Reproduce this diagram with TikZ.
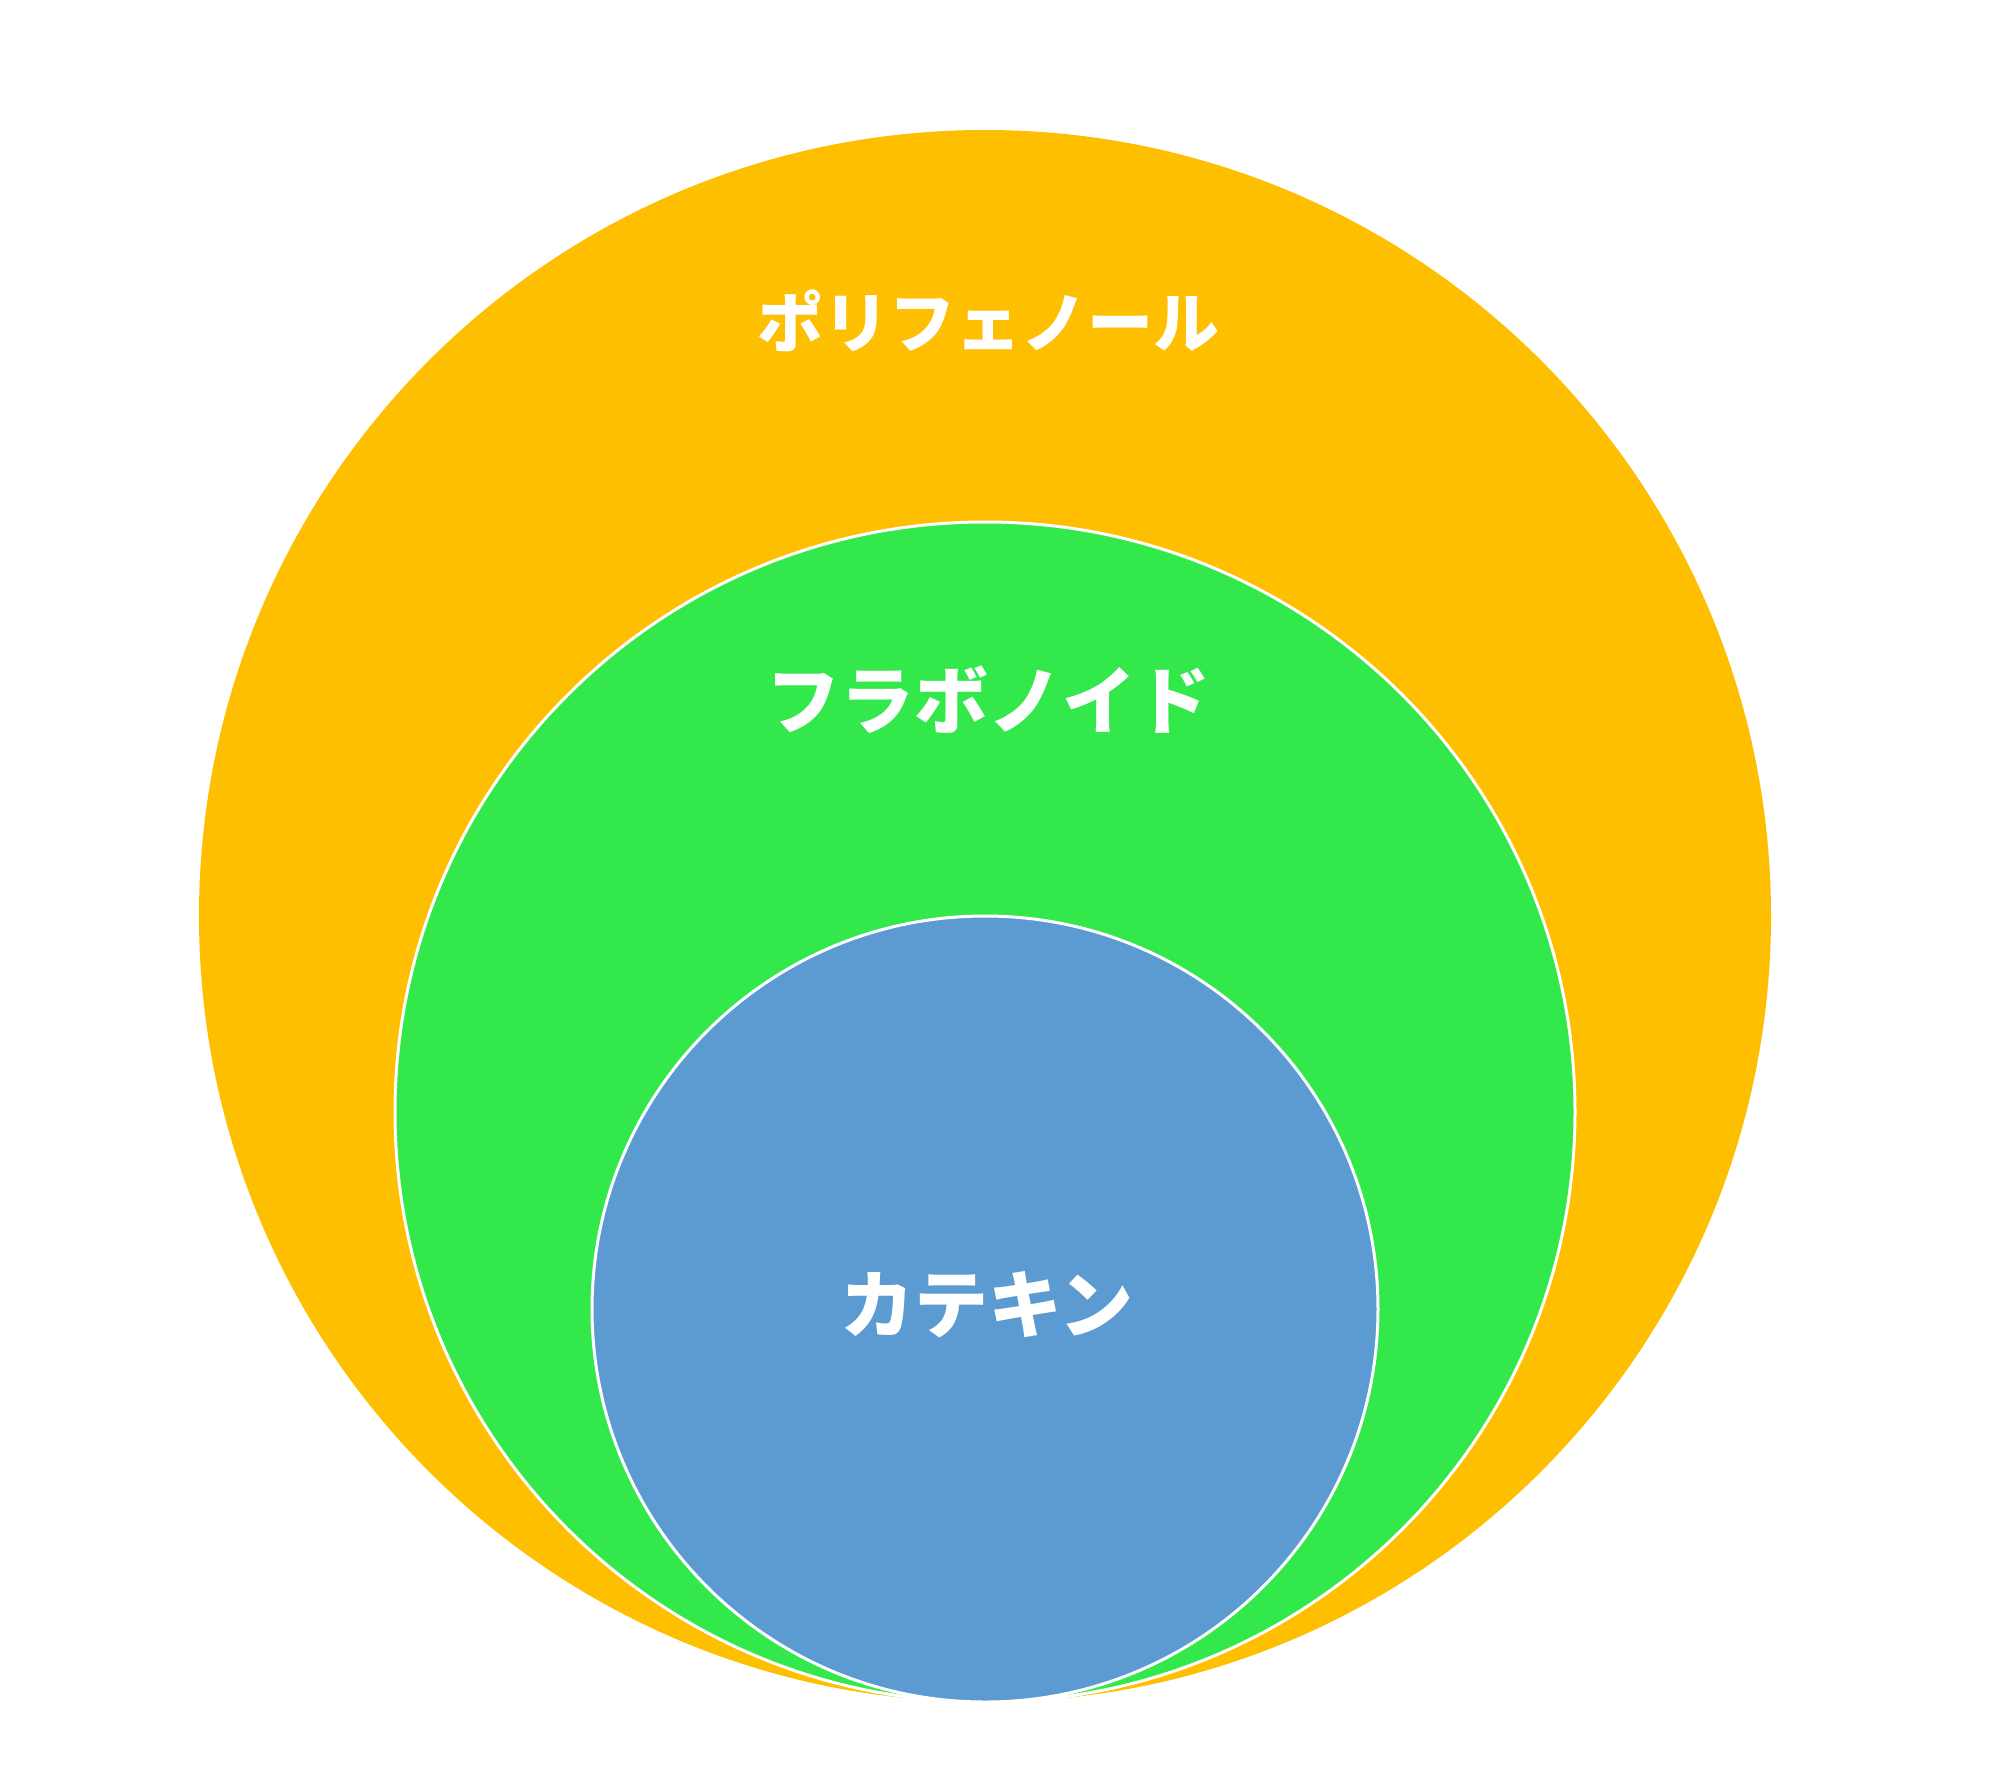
\documentclass[tikz,border=0pt]{standalone}
\usepackage{fontspec}
\newfontfamily\jpfont{Noto Sans CJK JP Black}
\definecolor{polyc}{HTML}{FDBF00}
\definecolor{flavc}{HTML}{33E84A}
\definecolor{catc}{HTML}{5B9BD2}
\begin{document}
\begin{tikzpicture}[x=0.5pt,y=-0.5pt,
  ring/.style={circle, inner sep=0pt, outer sep=0pt},
  lbl/.style={text=white, inner sep=0pt, font=\jpfont}]
\useasboundingbox (0,0) rectangle (2015,1783);
\node[ring, fill=polyc, minimum size=786pt] (poly) at (985,916) {};
\node[ring, fill=flavc, draw=white, line width=1.5pt, minimum size=590pt] (flav) at (985,1112) {};
\node[ring, fill=catc, draw=white, line width=1.5pt, minimum size=393pt] (cat) at (985,1309) {};
\node[lbl, font=\jpfont\fontsize{33pt}{40pt}\selectfont] (tpoly) at (988,321) {ポリフェノール};
\node[lbl, font=\jpfont\fontsize{37pt}{44pt}\selectfont] (tflav) at (988,700) {フラボノイド};
\node[lbl, font=\jpfont\fontsize{37pt}{44pt}\selectfont] (tcat) at (987,1305) {カテキン};
\end{tikzpicture}
\end{document}
